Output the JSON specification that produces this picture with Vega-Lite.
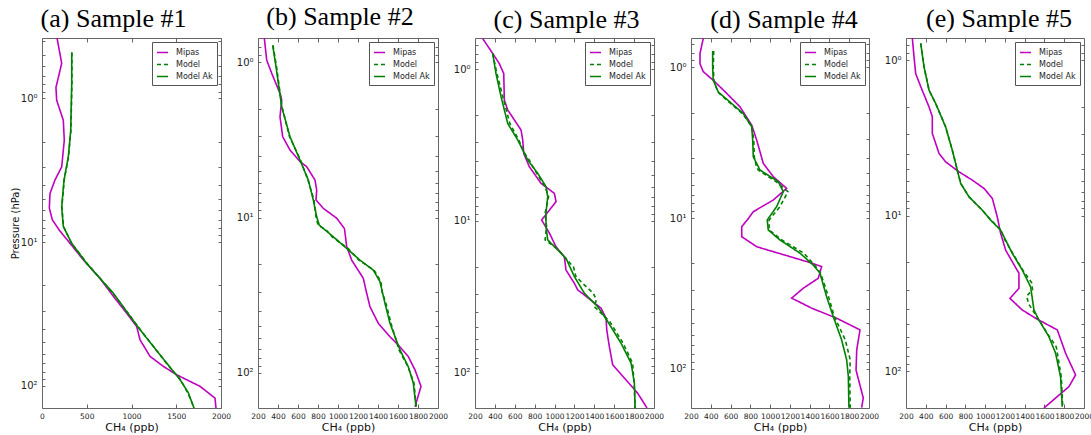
{
  "$schema": "https://vega.github.io/schema/vega-lite/v6.json",
  "background": "white",
  "padding": {"left": 9, "top": 3, "right": 0, "bottom": 0},
  "spacing": 37,
  "bounds": "flush",
  "config": {
    "view": {"stroke": "#666", "strokeWidth": 1},
    "axis": {"domain": false, "grid": false, "labelFont": "DejaVu Sans", "labelFontSize": 7.5, "labelColor": "#222", "tickColor": "#666", "labelPadding": 8, "labelFlush": false, "titleFont": "DejaVu Sans", "titleFontWeight": "normal", "titleColor": "#111", "labelOverlap": false},
    "axisY": {"labelFontSize": 10},
    "title": {"font": "Liberation Serif", "fontSize": 26, "fontWeight": "normal", "color": "black", "anchor": "middle", "baseline": "top", "offset": 3},
    "legend": {"orient": "top-right", "offset": 4, "strokeColor": "#555", "fillColor": "white", "padding": 4, "labelFont": "DejaVu Sans", "labelFontSize": 8, "labelColor": "#222", "symbolType": "stroke", "symbolStrokeWidth": 1.6, "symbolSize": 121, "rowPadding": 1, "cornerRadius": 0, "labelOffset": 7}
  },
  "datasets": {
    "p1": [
      {"s":"Mipas","p":0.38,"v":168},{"s":"Mipas","p":0.57,"v":220},{"s":"Mipas","p":0.84,"v":156},{"s":"Mipas","p":1.03,"v":164},{"s":"Mipas","p":1.42,"v":238},{"s":"Mipas","p":1.96,"v":249},{"s":"Mipas","p":3.0,"v":220},{"s":"Mipas","p":3.7,"v":145},{"s":"Mipas","p":4.6,"v":89},{"s":"Mipas","p":5.8,"v":82},{"s":"Mipas","p":7.0,"v":115},{"s":"Mipas","p":8.3,"v":195},{"s":"Mipas","p":9.8,"v":290},{"s":"Mipas","p":13.5,"v":470},{"s":"Mipas","p":17.9,"v":648},{"s":"Mipas","p":24,"v":800},{"s":"Mipas","p":31.3,"v":946},{"s":"Mipas","p":38.7,"v":1058},{"s":"Mipas","p":47.9,"v":1095},{"s":"Mipas","p":62.5,"v":1207},{"s":"Mipas","p":73.4,"v":1356},{"s":"Mipas","p":84,"v":1505},{"s":"Mipas","p":101,"v":1765},{"s":"Mipas","p":122,"v":1933},{"s":"Mipas","p":143,"v":1944},
      {"s":"Model","p":0.48,"v":334},{"s":"Model","p":0.79,"v":334},{"s":"Model","p":1.67,"v":323},{"s":"Model","p":2.55,"v":296},{"s":"Model","p":3.71,"v":248},{"s":"Model","p":5.7,"v":222},{"s":"Model","p":7.8,"v":240},{"s":"Model","p":10.2,"v":330},{"s":"Model","p":14.1,"v":505},{"s":"Model","p":22.7,"v":792},{"s":"Model","p":40.8,"v":1100},{"s":"Model","p":69.6,"v":1388},{"s":"Model","p":90.8,"v":1548},{"s":"Model","p":112,"v":1628},{"s":"Model","p":143,"v":1700},
      {"s":"Model Ak","p":0.48,"v":332},{"s":"Model Ak","p":0.79,"v":332},{"s":"Model Ak","p":1.67,"v":321},{"s":"Model Ak","p":2.55,"v":294},{"s":"Model Ak","p":3.71,"v":246},{"s":"Model Ak","p":5.7,"v":220},{"s":"Model Ak","p":7.8,"v":238},{"s":"Model Ak","p":10.2,"v":332},{"s":"Model Ak","p":14.1,"v":499},{"s":"Model Ak","p":22.7,"v":797},{"s":"Model Ak","p":40.8,"v":1095},{"s":"Model Ak","p":69.6,"v":1393},{"s":"Model Ak","p":90.8,"v":1542},{"s":"Model Ak","p":112,"v":1635},{"s":"Model Ak","p":143,"v":1698}
    ],
    "p2": [
      {"s":"Mipas","p":0.7,"v":263},{"s":"Mipas","p":0.97,"v":287},{"s":"Mipas","p":1.18,"v":337},{"s":"Mipas","p":1.59,"v":420},{"s":"Mipas","p":1.75,"v":437},{"s":"Mipas","p":2.25,"v":420},{"s":"Mipas","p":3.02,"v":447},{"s":"Mipas","p":3.68,"v":520},{"s":"Mipas","p":4.37,"v":620},{"s":"Mipas","p":4.71,"v":687},{"s":"Mipas","p":5.74,"v":770},{"s":"Mipas","p":6.66,"v":787},{"s":"Mipas","p":7.71,"v":780},{"s":"Mipas","p":8.73,"v":853},{"s":"Mipas","p":10.1,"v":987},{"s":"Mipas","p":11.8,"v":1065},{"s":"Mipas","p":15.4,"v":1087},{"s":"Mipas","p":18.8,"v":1137},{"s":"Mipas","p":24.6,"v":1253},{"s":"Mipas","p":30.7,"v":1287},{"s":"Mipas","p":37.5,"v":1320},{"s":"Mipas","p":47.9,"v":1403},{"s":"Mipas","p":58.5,"v":1520},{"s":"Mipas","p":66.1,"v":1603},{"s":"Mipas","p":78.5,"v":1703},{"s":"Mipas","p":95.6,"v":1770},{"s":"Mipas","p":122,"v":1830},{"s":"Mipas","p":165,"v":1770},
      {"s":"Model","p":0.78,"v":350},{"s":"Model","p":1.07,"v":385},{"s":"Model","p":1.94,"v":440},{"s":"Model","p":3.02,"v":515},{"s":"Model","p":4.27,"v":625},{"s":"Model","p":5.74,"v":700},{"s":"Model","p":7.71,"v":760},{"s":"Model","p":9.9,"v":780},{"s":"Model","p":11.2,"v":800},{"s":"Model","p":12,"v":880},{"s":"Model","p":13.3,"v":940},{"s":"Model","p":15.8,"v":1100},{"s":"Model","p":18.8,"v":1210},{"s":"Model","p":21.8,"v":1360},{"s":"Model","p":25.9,"v":1430},{"s":"Model","p":30,"v":1440},{"s":"Model","p":35.7,"v":1480},{"s":"Model","p":47.9,"v":1530},{"s":"Model","p":71.1,"v":1610},{"s":"Model","p":91.2,"v":1700},{"s":"Model","p":116,"v":1760},{"s":"Model","p":165,"v":1782},
      {"s":"Model Ak","p":0.78,"v":347},{"s":"Model Ak","p":1.07,"v":380},{"s":"Model Ak","p":1.94,"v":437},{"s":"Model Ak","p":3.02,"v":520},{"s":"Model Ak","p":4.27,"v":620},{"s":"Model Ak","p":5.74,"v":703},{"s":"Model Ak","p":7.71,"v":753},{"s":"Model Ak","p":9.9,"v":787},{"s":"Model Ak","p":11.2,"v":813},{"s":"Model Ak","p":12,"v":870},{"s":"Model Ak","p":13.3,"v":953},{"s":"Model Ak","p":15.8,"v":1087},{"s":"Model Ak","p":18.8,"v":1220},{"s":"Model Ak","p":21.8,"v":1353},{"s":"Model Ak","p":25.9,"v":1420},{"s":"Model Ak","p":35.7,"v":1470},{"s":"Model Ak","p":47.9,"v":1520},{"s":"Model Ak","p":71.1,"v":1620},{"s":"Model Ak","p":91.2,"v":1703},{"s":"Model Ak","p":116,"v":1753},{"s":"Model Ak","p":165,"v":1780}
    ],
    "p3": [
      {"s":"Mipas","p":0.63,"v":277},{"s":"Mipas","p":0.79,"v":378},{"s":"Mipas","p":0.92,"v":444},{"s":"Mipas","p":1.07,"v":489},{"s":"Mipas","p":1.6,"v":495},{"s":"Mipas","p":1.86,"v":529},{"s":"Mipas","p":2.52,"v":663},{"s":"Mipas","p":2.93,"v":680},{"s":"Mipas","p":3.59,"v":690},{"s":"Mipas","p":4.39,"v":746},{"s":"Mipas","p":5.65,"v":864},{"s":"Mipas","p":6.58,"v":998},{"s":"Mipas","p":7.46,"v":1015},{"s":"Mipas","p":9.85,"v":870},{"s":"Mipas","p":12,"v":948},{"s":"Mipas","p":14.8,"v":1015},{"s":"Mipas","p":17.2,"v":1098},{"s":"Mipas","p":21,"v":1115},{"s":"Mipas","p":25.7,"v":1199},{"s":"Mipas","p":28.4,"v":1233},{"s":"Mipas","p":30.7,"v":1300},{"s":"Mipas","p":37.5,"v":1468},{"s":"Mipas","p":43.7,"v":1518},{"s":"Mipas","p":52.1,"v":1525},{"s":"Mipas","p":67.1,"v":1551},{"s":"Mipas","p":88.5,"v":1585},{"s":"Mipas","p":136,"v":1836},{"s":"Mipas","p":170,"v":1930},
      {"s":"Model","p":0.79,"v":378},{"s":"Model","p":1.07,"v":420},{"s":"Model","p":1.52,"v":480},{"s":"Model","p":2.28,"v":550},{"s":"Model","p":2.93,"v":640},{"s":"Model","p":3.6,"v":700},{"s":"Model","p":3.97,"v":745},{"s":"Model","p":4.86,"v":820},{"s":"Model","p":5.94,"v":905},{"s":"Model","p":6.92,"v":940},{"s":"Model","p":8.89,"v":905},{"s":"Model","p":10.9,"v":920},{"s":"Model","p":13.3,"v":905},{"s":"Model","p":15.5,"v":1040},{"s":"Model","p":17.6,"v":1110},{"s":"Model","p":20,"v":1190},{"s":"Model","p":23.2,"v":1215},{"s":"Model","p":26,"v":1290},{"s":"Model","p":29.9,"v":1390},{"s":"Model","p":33,"v":1420},{"s":"Model","p":36.6,"v":1400},{"s":"Model","p":45.9,"v":1555},{"s":"Model","p":63.8,"v":1690},{"s":"Model","p":86.3,"v":1785},{"s":"Model","p":117,"v":1800},{"s":"Model","p":170,"v":1810},
      {"s":"Model Ak","p":0.79,"v":378},{"s":"Model Ak","p":1.07,"v":411},{"s":"Model Ak","p":1.52,"v":462},{"s":"Model Ak","p":2.28,"v":529},{"s":"Model Ak","p":2.93,"v":630},{"s":"Model Ak","p":3.97,"v":730},{"s":"Model Ak","p":4.86,"v":831},{"s":"Model Ak","p":5.94,"v":914},{"s":"Model Ak","p":6.92,"v":931},{"s":"Model Ak","p":8.89,"v":914},{"s":"Model Ak","p":10.9,"v":914},{"s":"Model Ak","p":13.3,"v":931},{"s":"Model Ak","p":15.5,"v":1032},{"s":"Model Ak","p":17.6,"v":1115},{"s":"Model Ak","p":23.2,"v":1199},{"s":"Model Ak","p":29.9,"v":1300},{"s":"Model Ak","p":36.6,"v":1434},{"s":"Model Ak","p":45.9,"v":1535},{"s":"Model Ak","p":63.8,"v":1669},{"s":"Model Ak","p":86.3,"v":1770},{"s":"Model Ak","p":117,"v":1803},{"s":"Model Ak","p":170,"v":1810}
    ],
    "p4": [
      {"s":"Mipas","p":0.645,"v":324},{"s":"Mipas","p":0.81,"v":291},{"s":"Mipas","p":0.95,"v":291},{"s":"Mipas","p":1.07,"v":324},{"s":"Mipas","p":1.22,"v":425},{"s":"Mipas","p":1.49,"v":561},{"s":"Mipas","p":1.83,"v":695},{"s":"Mipas","p":2.42,"v":814},{"s":"Mipas","p":3.04,"v":864},{"s":"Mipas","p":4.34,"v":931},{"s":"Mipas","p":5.32,"v":1032},{"s":"Mipas","p":6.36,"v":1167},{"s":"Mipas","p":7.6,"v":1032},{"s":"Mipas","p":9.08,"v":830},{"s":"Mipas","p":10.3,"v":769},{"s":"Mipas","p":11.4,"v":713},{"s":"Mipas","p":13.3,"v":713},{"s":"Mipas","p":15.5,"v":864},{"s":"Mipas","p":19.9,"v":1420},{"s":"Mipas","p":21,"v":1521},{"s":"Mipas","p":25.1,"v":1487},{"s":"Mipas","p":29.2,"v":1336},{"s":"Mipas","p":34,"v":1218},{"s":"Mipas","p":39.6,"v":1420},{"s":"Mipas","p":46.2,"v":1673},{"s":"Mipas","p":55.2,"v":1909},{"s":"Mipas","p":74.9,"v":1876},{"s":"Mipas","p":102,"v":1869},{"s":"Mipas","p":156,"v":1942},{"s":"Mipas","p":181,"v":1926},
      {"s":"Model","p":0.78,"v":430},{"s":"Model","p":1.0,"v":425},{"s":"Model","p":1.22,"v":432},{"s":"Model","p":1.46,"v":470},{"s":"Model","p":1.74,"v":600},{"s":"Model","p":2.03,"v":720},{"s":"Model","p":2.48,"v":815},{"s":"Model","p":3.04,"v":835},{"s":"Model","p":3.93,"v":840},{"s":"Model","p":4.5,"v":860},{"s":"Model","p":4.81,"v":880},{"s":"Model","p":5.74,"v":1060},{"s":"Model","p":6.69,"v":1180},{"s":"Model","p":8.41,"v":1100},{"s":"Model","p":10.3,"v":990},{"s":"Model","p":12,"v":990},{"s":"Model","p":14,"v":1120},{"s":"Model","p":17.1,"v":1340},{"s":"Model","p":20.5,"v":1450},{"s":"Model","p":23.2,"v":1510},{"s":"Model","p":33.2,"v":1590},{"s":"Model","p":45.1,"v":1650},{"s":"Model","p":64.3,"v":1760},{"s":"Model","p":87.1,"v":1810},{"s":"Model","p":112,"v":1805},{"s":"Model","p":181,"v":1810},
      {"s":"Model Ak","p":0.78,"v":419},{"s":"Model Ak","p":1.0,"v":419},{"s":"Model Ak","p":1.22,"v":425},{"s":"Model Ak","p":1.46,"v":476},{"s":"Model Ak","p":1.74,"v":611},{"s":"Model Ak","p":2.03,"v":729},{"s":"Model Ak","p":2.48,"v":814},{"s":"Model Ak","p":3.04,"v":824},{"s":"Model Ak","p":3.93,"v":830},{"s":"Model Ak","p":4.81,"v":898},{"s":"Model Ak","p":5.74,"v":1083},{"s":"Model Ak","p":6.69,"v":1133},{"s":"Model Ak","p":8.41,"v":1066},{"s":"Model Ak","p":10.3,"v":971},{"s":"Model Ak","p":12,"v":981},{"s":"Model Ak","p":14,"v":1100},{"s":"Model Ak","p":17.1,"v":1302},{"s":"Model Ak","p":20.5,"v":1436},{"s":"Model Ak","p":23.2,"v":1504},{"s":"Model Ak","p":33.2,"v":1571},{"s":"Model Ak","p":45.1,"v":1639},{"s":"Model Ak","p":64.3,"v":1723},{"s":"Model Ak","p":87.1,"v":1774},{"s":"Model Ak","p":112,"v":1791},{"s":"Model Ak","p":181,"v":1797}
    ],
    "p5": [
      {"s":"Mipas","p":0.72,"v":264},{"s":"Mipas","p":0.95,"v":281},{"s":"Mipas","p":1.22,"v":298},{"s":"Mipas","p":1.48,"v":349},{"s":"Mipas","p":2.0,"v":433},{"s":"Mipas","p":2.31,"v":466},{"s":"Mipas","p":2.96,"v":466},{"s":"Mipas","p":3.98,"v":534},{"s":"Mipas","p":4.51,"v":601},{"s":"Mipas","p":5.23,"v":736},{"s":"Mipas","p":5.91,"v":870},{"s":"Mipas","p":6.69,"v":989},{"s":"Mipas","p":7.75,"v":1073},{"s":"Mipas","p":10.2,"v":1123},{"s":"Mipas","p":13,"v":1157},{"s":"Mipas","p":16.7,"v":1208},{"s":"Mipas","p":23.5,"v":1342},{"s":"Mipas","p":29.4,"v":1342},{"s":"Mipas","p":34.1,"v":1251},{"s":"Mipas","p":40.5,"v":1376},{"s":"Mipas","p":45.8,"v":1511},{"s":"Mipas","p":54.4,"v":1730},{"s":"Mipas","p":76.9,"v":1814},{"s":"Mipas","p":106,"v":1915},{"s":"Mipas","p":126,"v":1848},{"s":"Mipas","p":173,"v":1595},
      {"s":"Model","p":0.78,"v":349},{"s":"Model","p":1.1,"v":382},{"s":"Model","p":1.56,"v":433},{"s":"Model","p":1.9,"v":500},{"s":"Model","p":2.69,"v":601},{"s":"Model","p":3.79,"v":668},{"s":"Model","p":5.1,"v":719},{"s":"Model","p":6.21,"v":753},{"s":"Model","p":7.57,"v":837},{"s":"Model","p":9.22,"v":971},{"s":"Model","p":10.7,"v":1060},{"s":"Model","p":12.4,"v":1160},{"s":"Model","p":14,"v":1190},{"s":"Model","p":17.5,"v":1280},{"s":"Model","p":22.4,"v":1380},{"s":"Model","p":27,"v":1470},{"s":"Model","p":30,"v":1480},{"s":"Model","p":33,"v":1420},{"s":"Model","p":37,"v":1440},{"s":"Model","p":40.5,"v":1480},{"s":"Model","p":47,"v":1545},{"s":"Model","p":60.1,"v":1650},{"s":"Model","p":70,"v":1720},{"s":"Model","p":80,"v":1735},{"s":"Model","p":109,"v":1770},{"s":"Model","p":170,"v":1785},
      {"s":"Model Ak","p":0.78,"v":349},{"s":"Model Ak","p":1.1,"v":382},{"s":"Model Ak","p":1.56,"v":433},{"s":"Model Ak","p":1.9,"v":500},{"s":"Model Ak","p":2.69,"v":601},{"s":"Model Ak","p":3.79,"v":668},{"s":"Model Ak","p":5.1,"v":719},{"s":"Model Ak","p":6.21,"v":753},{"s":"Model Ak","p":7.57,"v":837},{"s":"Model Ak","p":9.22,"v":971},{"s":"Model Ak","p":10.7,"v":1056},{"s":"Model Ak","p":12.4,"v":1157},{"s":"Model Ak","p":17.5,"v":1275},{"s":"Model Ak","p":22.4,"v":1376},{"s":"Model Ak","p":28.7,"v":1460},{"s":"Model Ak","p":40.5,"v":1494},{"s":"Model Ak","p":47,"v":1544},{"s":"Model Ak","p":60.1,"v":1645},{"s":"Model Ak","p":76.9,"v":1713},{"s":"Model Ak","p":109,"v":1763},{"s":"Model Ak","p":170,"v":1780}
    ]
  },
  "resolve": {"scale": {"color": "independent", "strokeDash": "independent"}, "legend": {"color": "independent", "strokeDash": "independent"}},
  "hconcat": [
    {
      "width": 179, "height": 370,
      "title": {"text": "(a) Sample #1", "dx": -18},
      "data": {"name": "p1"},
      "resolve": {"axis": {"x": "independent", "y": "independent"}},
      "layer": [
        {
          "mark": {"type": "line", "strokeWidth": 1.6, "clip": true},
          "encoding": {
            "x": {"field": "v", "type": "quantitative", "scale": {"domain": [0, 2000], "nice": false, "zero": false}, "axis": {"title": "CH₄ (ppb)", "titleFontSize": 11, "titlePadding": 2, "format": "d", "values": [0, 500, 1000, 1500, 2000], "tickSize": -4}},
            "y": {"field": "p", "type": "quantitative", "scale": {"type": "log", "domain": [0.38, 143], "reverse": true, "nice": false}, "axis": {"title": "Pressure (hPa)", "titleFontSize": 10, "titlePadding": 0, "values": [0.4,0.5,0.6,0.7,0.8,0.9,1,2,3,4,5,6,7,8,9,10,20,30,40,50,60,70,80,90,100], "labelExpr": "datum.value == 1 ? '10⁰' : datum.value == 10 ? '10¹' : datum.value == 100 ? '10²' : ''", "tickSize": -3}},
            "color": {"field": "s", "type": "nominal", "scale": {"domain": ["Mipas", "Model", "Model Ak"], "range": ["#bf00bf", "#008000", "#008000"]}, "legend": {"title": null}},
            "strokeDash": {"field": "s", "type": "nominal", "scale": {"domain": ["Mipas", "Model", "Model Ak"], "range": [[1, 0], [4, 3], [1, 0]]}, "legend": {"title": null}},
            "order": {"field": "p", "type": "quantitative"}
          }
        },
        {
          "mark": {"type": "point", "opacity": 0},
          "encoding": {
            "x": {"field": "v", "type": "quantitative", "axis": {"orient": "top", "title": null, "labels": false, "values": [0, 500, 1000, 1500, 2000], "tickSize": -4}},
            "y": {"field": "p", "type": "quantitative", "axis": {"orient": "right", "title": null, "labels": false, "values": [0.4,0.5,0.6,0.7,0.8,0.9,1,2,3,4,5,6,7,8,9,10,20,30,40,50,60,70,80,90,100], "tickSize": -3}}
          }
        }
      ]
    },
    {
      "width": 180, "height": 370,
      "title": {"text": "(b) Sample #2", "dx": -8},
      "data": {"name": "p2"},
      "resolve": {"axis": {"x": "independent", "y": "independent"}},
      "layer": [
        {
          "mark": {"type": "line", "strokeWidth": 1.6, "clip": true},
          "encoding": {
            "x": {"field": "v", "type": "quantitative", "scale": {"domain": [200, 2000], "nice": false, "zero": false}, "axis": {"title": "CH₄ (ppb)", "titleFontSize": 11, "titlePadding": 2, "format": "d", "values": [200,400,600,800,1000,1200,1400,1600,1800,2000], "tickSize": -4}},
            "y": {"field": "p", "type": "quantitative", "scale": {"type": "log", "domain": [0.7, 168], "reverse": true, "nice": false}, "axis": {"title": null, "values": [0.7,0.8,0.9,1,2,3,4,5,6,7,8,9,10,20,30,40,50,60,70,80,90,100], "labelExpr": "datum.value == 1 ? '10⁰' : datum.value == 10 ? '10¹' : datum.value == 100 ? '10²' : ''", "tickSize": -3}},
            "color": {"field": "s", "type": "nominal", "scale": {"domain": ["Mipas", "Model", "Model Ak"], "range": ["#bf00bf", "#008000", "#008000"]}, "legend": {"title": null}},
            "strokeDash": {"field": "s", "type": "nominal", "scale": {"domain": ["Mipas", "Model", "Model Ak"], "range": [[1, 0], [4, 3], [1, 0]]}, "legend": {"title": null}},
            "order": {"field": "p", "type": "quantitative"}
          }
        },
        {
          "mark": {"type": "point", "opacity": 0},
          "encoding": {
            "x": {"field": "v", "type": "quantitative", "axis": {"orient": "top", "title": null, "labels": false, "values": [200,400,600,800,1000,1200,1400,1600,1800,2000], "tickSize": -4}},
            "y": {"field": "p", "type": "quantitative", "axis": {"orient": "right", "title": null, "labels": false, "values": [0.7,0.8,0.9,1,2,3,4,5,6,7,8,9,10,20,30,40,50,60,70,80,90,100], "tickSize": -3}}
          }
        }
      ]
    },
    {
      "width": 179, "height": 370,
      "title": {"text": "(c) Sample #3", "dx": 2},
      "data": {"name": "p3"},
      "resolve": {"axis": {"x": "independent", "y": "independent"}},
      "layer": [
        {
          "mark": {"type": "line", "strokeWidth": 1.6, "clip": true},
          "encoding": {
            "x": {"field": "v", "type": "quantitative", "scale": {"domain": [200, 2000], "nice": false, "zero": false}, "axis": {"title": "CH₄ (ppb)", "titleFontSize": 11, "titlePadding": 2, "format": "d", "values": [200,400,600,800,1000,1200,1400,1600,1800,2000], "tickSize": -4}},
            "y": {"field": "p", "type": "quantitative", "scale": {"type": "log", "domain": [0.625, 170], "reverse": true, "nice": false}, "axis": {"title": null, "values": [0.7,0.8,0.9,1,2,3,4,5,6,7,8,9,10,20,30,40,50,60,70,80,90,100], "labelExpr": "datum.value == 1 ? '10⁰' : datum.value == 10 ? '10¹' : datum.value == 100 ? '10²' : ''", "tickSize": -3}},
            "color": {"field": "s", "type": "nominal", "scale": {"domain": ["Mipas", "Model", "Model Ak"], "range": ["#bf00bf", "#008000", "#008000"]}, "legend": {"title": null}},
            "strokeDash": {"field": "s", "type": "nominal", "scale": {"domain": ["Mipas", "Model", "Model Ak"], "range": [[1, 0], [4, 3], [1, 0]]}, "legend": {"title": null}},
            "order": {"field": "p", "type": "quantitative"}
          }
        },
        {
          "mark": {"type": "point", "opacity": 0},
          "encoding": {
            "x": {"field": "v", "type": "quantitative", "axis": {"orient": "top", "title": null, "labels": false, "values": [200,400,600,800,1000,1200,1400,1600,1800,2000], "tickSize": -4}},
            "y": {"field": "p", "type": "quantitative", "axis": {"orient": "right", "title": null, "labels": false, "values": [0.7,0.8,0.9,1,2,3,4,5,6,7,8,9,10,20,30,40,50,60,70,80,90,100], "tickSize": -3}}
          }
        }
      ]
    },
    {
      "width": 178, "height": 370,
      "title": {"text": "(d) Sample #4", "dx": 4},
      "data": {"name": "p4"},
      "resolve": {"axis": {"x": "independent", "y": "independent"}},
      "layer": [
        {
          "mark": {"type": "line", "strokeWidth": 1.6, "clip": true},
          "encoding": {
            "x": {"field": "v", "type": "quantitative", "scale": {"domain": [200, 2000], "nice": false, "zero": false}, "axis": {"title": "CH₄ (ppb)", "titleFontSize": 11, "titlePadding": 2, "format": "d", "values": [200,400,600,800,1000,1200,1400,1600,1800,2000], "tickSize": -4}},
            "y": {"field": "p", "type": "quantitative", "scale": {"type": "log", "domain": [0.64, 182], "reverse": true, "nice": false}, "axis": {"title": null, "values": [0.7,0.8,0.9,1,2,3,4,5,6,7,8,9,10,20,30,40,50,60,70,80,90,100], "labelExpr": "datum.value == 1 ? '10⁰' : datum.value == 10 ? '10¹' : datum.value == 100 ? '10²' : ''", "tickSize": -3}},
            "color": {"field": "s", "type": "nominal", "scale": {"domain": ["Mipas", "Model", "Model Ak"], "range": ["#bf00bf", "#008000", "#008000"]}, "legend": {"title": null}},
            "strokeDash": {"field": "s", "type": "nominal", "scale": {"domain": ["Mipas", "Model", "Model Ak"], "range": [[1, 0], [4, 3], [1, 0]]}, "legend": {"title": null}},
            "order": {"field": "p", "type": "quantitative"}
          }
        },
        {
          "mark": {"type": "point", "opacity": 0},
          "encoding": {
            "x": {"field": "v", "type": "quantitative", "axis": {"orient": "top", "title": null, "labels": false, "values": [200,400,600,800,1000,1200,1400,1600,1800,2000], "tickSize": -4}},
            "y": {"field": "p", "type": "quantitative", "axis": {"orient": "right", "title": null, "labels": false, "values": [0.7,0.8,0.9,1,2,3,4,5,6,7,8,9,10,20,30,40,50,60,70,80,90,100], "tickSize": -3}}
          }
        }
      ]
    },
    {
      "width": 178, "height": 370,
      "title": {"text": "(e) Sample #5", "dx": 4},
      "data": {"name": "p5"},
      "resolve": {"axis": {"x": "independent", "y": "independent"}},
      "layer": [
        {
          "mark": {"type": "line", "strokeWidth": 1.6, "clip": true},
          "encoding": {
            "x": {"field": "v", "type": "quantitative", "scale": {"domain": [200, 2000], "nice": false, "zero": false}, "axis": {"title": "CH₄ (ppb)", "titleFontSize": 11, "titlePadding": 2, "format": "d", "values": [200,400,600,800,1000,1200,1400,1600,1800,2000], "tickSize": -4}},
            "y": {"field": "p", "type": "quantitative", "scale": {"type": "log", "domain": [0.72, 173], "reverse": true, "nice": false}, "axis": {"title": null, "values": [0.8,0.9,1,2,3,4,5,6,7,8,9,10,20,30,40,50,60,70,80,90,100], "labelExpr": "datum.value == 1 ? '10⁰' : datum.value == 10 ? '10¹' : datum.value == 100 ? '10²' : ''", "tickSize": -3}},
            "color": {"field": "s", "type": "nominal", "scale": {"domain": ["Mipas", "Model", "Model Ak"], "range": ["#bf00bf", "#008000", "#008000"]}, "legend": {"title": null}},
            "strokeDash": {"field": "s", "type": "nominal", "scale": {"domain": ["Mipas", "Model", "Model Ak"], "range": [[1, 0], [4, 3], [1, 0]]}, "legend": {"title": null}},
            "order": {"field": "p", "type": "quantitative"}
          }
        },
        {
          "mark": {"type": "point", "opacity": 0},
          "encoding": {
            "x": {"field": "v", "type": "quantitative", "axis": {"orient": "top", "title": null, "labels": false, "values": [200,400,600,800,1000,1200,1400,1600,1800,2000], "tickSize": -4}},
            "y": {"field": "p", "type": "quantitative", "axis": {"orient": "right", "title": null, "labels": false, "values": [0.8,0.9,1,2,3,4,5,6,7,8,9,10,20,30,40,50,60,70,80,90,100], "tickSize": -3}}
          }
        }
      ]
    }
  ]
}
